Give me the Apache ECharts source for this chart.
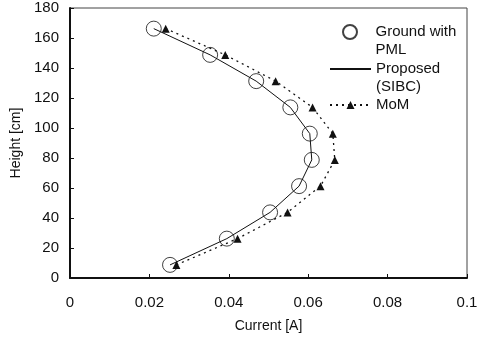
<!DOCTYPE html>
<html>
<head>
<meta charset="utf-8">
<script src="https://cdn.jsdelivr.net/npm/echarts@6/dist/echarts.min.js"></script>
<style>
  html, body { margin: 0; padding: 0; background: #fff; }
  #chart { width: 483px; height: 339px; }
</style>
</head>
<body>
<div id="chart"></div>
<script>
// heights of the sample points [cm]
var heights = [8.75, 26.25, 43.75, 61.25, 78.75, 96.25, 113.75, 131.25, 148.75, 166.25];
// current [A]
var pmlCurrent = [0.0252, 0.0395, 0.0504, 0.0577, 0.0609, 0.0604, 0.0555, 0.0469, 0.0353, 0.0211];
var sibcCurrent = [0.0252, 0.0395, 0.0504, 0.0577, 0.0609, 0.0604, 0.0555, 0.0469, 0.0353, 0.0211];
var momCurrent = [0.0268, 0.0422, 0.0548, 0.0631, 0.0667, 0.0662, 0.0611, 0.0518, 0.0391, 0.0241];

var seriesNames = ['Ground with\nPML', 'Proposed\n(SIBC)', 'MoM'];

function pairs(xs) {
  return xs.map(function (x, i) { return [x, heights[i]]; });
}

var chart = echarts.init(document.getElementById('chart'));
var font = 'Liberation Sans, Arial, sans-serif';

// one legend block per series so each can sit where the original puts it
function legendBox(item, left, top, iconH, multi) {
  return {
    data: [item],
    left: left,
    top: top,
    padding: 0,
    itemWidth: 41,
    itemHeight: iconH,
    selectedMode: false,
    // blank first line keeps the icon level with the first text line
    formatter: function (name) { return multi ? ' \n' + name : name; },
    textStyle: { fontFamily: font, fontSize: 15, color: '#111', lineHeight: 18 }
  };
}

var option = {
  animation: false,
  backgroundColor: '#fff',
  grid: {
    left: 70, right: 16, top: 8, bottom: 61,
    show: true, borderColor: '#444', borderWidth: 1
  },
  legend: [
    legendBox(seriesNames[0], 342, 5, 14, true),
    legendBox({ name: seriesNames[1], itemStyle: { opacity: 0 } }, 329, 42, 14, true),
    legendBox(seriesNames[2], 329, 96, 10, false)
  ],
  xAxis: {
    type: 'value',
    min: 0, max: 0.1, interval: 0.02,
    name: 'Current [A]',
    nameLocation: 'middle',
    nameGap: 41,
    nameTextStyle: { fontFamily: font, fontSize: 14, color: '#111' },
    axisLine: { show: true, onZero: false, lineStyle: { color: '#111', width: 2 } },
    axisTick: { show: true, inside: true, length: 4, lineStyle: { color: '#111' } },
    axisLabel: { fontFamily: font, fontSize: 15, color: '#111', margin: 17 },
    splitLine: { show: false }
  },
  yAxis: {
    type: 'value',
    min: 0, max: 180, interval: 20,
    name: 'Height [cm]',
    nameLocation: 'middle',
    nameGap: 43,
    nameTextStyle: { fontFamily: font, fontSize: 14, color: '#111' },
    axisLine: { show: true, onZero: false, lineStyle: { color: '#111', width: 2 } },
    axisTick: { show: true, inside: true, length: 4, lineStyle: { color: '#111' } },
    axisLabel: { fontFamily: font, fontSize: 15, color: '#111', margin: 11 },
    splitLine: { show: false }
  },
  series: [
    {
      name: seriesNames[0],
      type: 'scatter',
      data: pairs(pmlCurrent),
      symbol: 'circle',
      symbolSize: 15,
      itemStyle: { color: 'rgba(255,255,255,0)', borderColor: '#111', borderWidth: 1 },
      z: 3
    },
    {
      name: seriesNames[1],
      type: 'line',
      data: pairs(sibcCurrent),
      symbol: 'none',
      lineStyle: { color: '#111', width: 1, type: 'solid' },
      itemStyle: { color: '#111' },
      z: 2
    },
    {
      name: seriesNames[2],
      type: 'line',
      data: pairs(momCurrent),
      symbol: 'triangle',
      symbolSize: 8,
      showSymbol: true,
      lineStyle: { color: '#111', width: 1.3, type: [2, 4] },
      itemStyle: { color: '#111' },
      z: 2
    }
  ]
};

chart.setOption(option);
</script>
</body>
</html>
